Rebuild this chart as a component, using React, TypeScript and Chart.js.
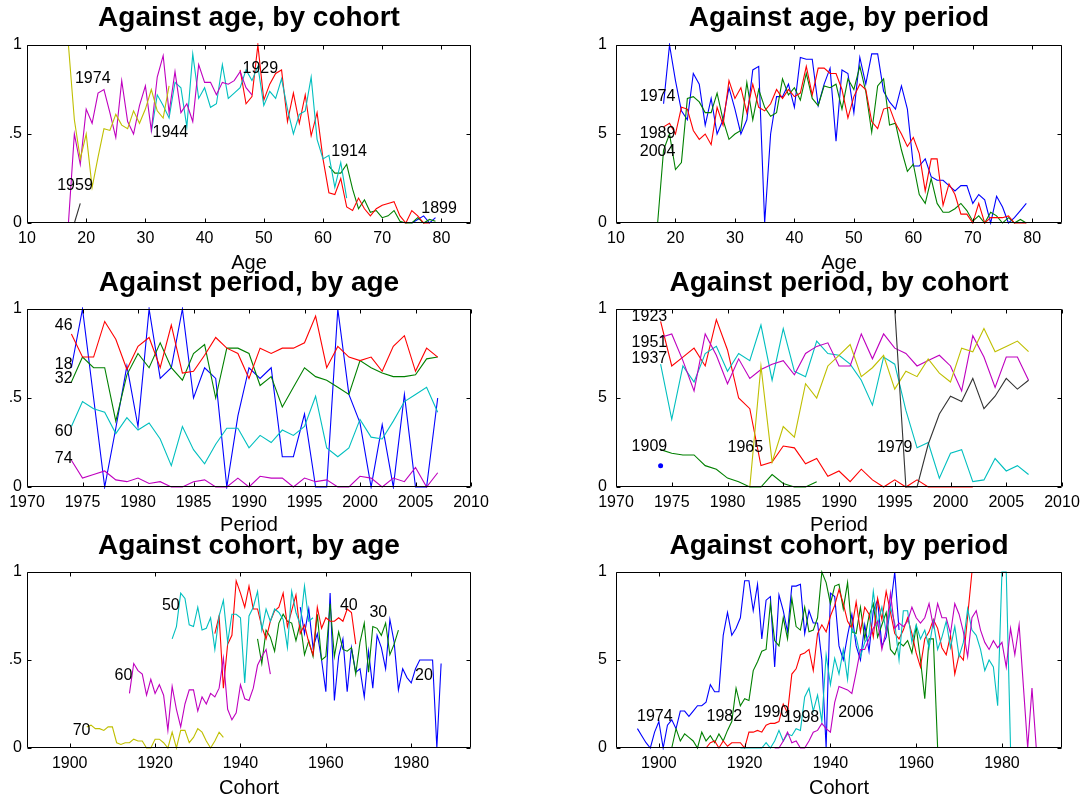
import { useEffect, useRef } from "react";
import { Chart, registerables } from "chart.js";

Chart.register(...registerables);

const FONT = "'Liberation Sans', Arial, Helvetica, sans-serif";
const BLUE = "#0000ff";
const GREEN = "#008000";
const RED = "#ff0000";
const CYAN = "#00bfbf";
const MAGENTA = "#bf00bf";
const YELLOW = "#bfbf00";
const BLACK = "#333333";

const Y_TICKS = [0, 0.5, 1];
const AGE_TICKS = [10, 20, 30, 40, 50, 60, 70, 80];
const PERIOD_TICKS = [1970, 1975, 1980, 1985, 1990, 1995, 2000, 2005, 2010];
const COHORT_TICKS = [1900, 1920, 1940, 1960, 1980];

// ---------- Panel 1: against age, by cohort (x = age) ----------
const cohort1899ByAge = [0, 0.02, 0.04, 0, 0.03]; // ages 75..
const cohort1914ByAge = [0.32, 0.28, 0.28, 0.33, 0.19, 0.08, 0.13, 0.06, 0.07, 0.03, 0.04, 0.07, 0.01, 0, 0, 0.03, 0, 0.02, 0.01]; // 61..
const cohort1929ByAge = [0.86, 0.67, 0.71, 1.0, 0.69, 0.78, 0.84, 0.86, 0.57, 0.73, 0.56, 0.72, 0.49, 0.62, 0.36, 0.17, 0.16, 0.25, 0.09, 0.07, 0.14, 0.08, 0.04, 0.08, 0.1, 0.11, 0.12, 0.04, 0, 0.07, 0.04, 0, 0]; // 46..
const cohort1944ByAge = [0.51, 0.72, 0.66, 0.59, 0.79, 0.76, 0.54, 0.95, 0.7, 0.76, 0.65, 0.67, 0.89, 0.7, 0.73, 0.76, 0.86, 0.8, 0.88, 0.66, 0.74, 0.7, 0.81, 0.64, 0.5, 0.61, 0.63, 0.82, 0.47, 0.36, 0.38, 0.2, 0.34, 0.14]; // 31..
const cohort1959ByAge = [0, 0.5, 0.33, 0.64, 0.56, 0.73, 0.75, 0.62, 0.48, 0.8, 0.57, 0.5, 0.66, 0.77, 0.52, 0.82, 0.94, 0.62, 0.85, 0.62, 0.67, 0.57, 0.89, 0.79, 0.79, 0.72, 0.79, 0.78, 0.8, 0.85, 0.76, 0.72]; // 17..
const cohort1974ByAge = [1.0, 0.58, 0.36, 0.5, 0.2, 0.37, 0.53, 0.52, 0.61, 0.55, 0.53, 0.63, 0.56, 0.64, 0.75, 0.63, 0.59, 0.77]; // 17..
const cohort1989ByAge = [0, 0.11]; // 18..

// ---------- Panel 2: against age, by period (x = age) ----------
const period1974ByAge = [0.67, 1.0, 0.8, 0.63, 0.58, 0.84, 0.78, 0.55, 0.7, 0.5, 0.58, 0.76, 0.64, 0.5, 0.58, 0.86, 0.88, 0, 0.5, 0.71, 0.71, 0.78, 0.65, 0.93, 0.92, 0.92, 0.66, 0.78, 0.87, 0.46, 0.86, 0.84, 0.62, 0.93, 0.78, 0.95, 0.95, 0.74, 0.68, 0.64, 0.77, 0.64, 0.32, 0.32, 0.36, 0.26, 0.24, 0.24, 0.21, 0.18, 0.21, 0.21, 0.11, 0.16, 0.13, 0, 0.15, 0.09, 0, 0.03, 0.07, 0.11]; // 18..79
const period1989ByAge = [0, 0.41, 0.5, 0.3, 0.34, 0.7, 0.71, 0.68, 0.62, 0.62, 0.73, 0.58, 0.47, 0.5, 0.52, 0.79, 0.58, 0.75, 0.65, 0.6, 0.62, 0.81, 0.72, 0.76, 0.69, 0.84, 0.7, 0.66, 0.77, 0.76, 0.78, 0.64, 0.81, 0.75, 0.88, 0.74, 0.51, 0.77, 0.81, 0.55, 0.56, 0.41, 0.29, 0.33, 0.16, 0.11, 0.25, 0.11, 0.06, 0.06, 0.08, 0.11, 0.07, 0.01, 0.04, 0, 0.06, 0.04, 0, 0.03, 0, 0.02, 0]; // 17..79
const period2004ByAge = [0.54, 0.56, 0.5, 0.65, 0.64, 0.52, 0.47, 0.5, 0.44, 0.65, 0.55, 0.8, 0.7, 0.76, 0.62, 0.78, 0.65, 0.63, 0.67, 0.75, 0.7, 0.75, 0.71, 0.73, 0.88, 0.72, 0.87, 0.87, 0.84, 0.84, 0.75, 0.59, 0.71, 0.78, 0.75, 0.57, 0.53, 0.64, 0.65, 0.56, 0.5, 0.43, 0.48, 0.39, 0.18, 0.36, 0.36, 0.1, 0.22, 0.16, 0.05, 0.05, 0, 0.11, 0, 0.03, 0.03, 0.03, 0.04, 0, 0, 0]; // 18..79

// ---------- Panel 3: against period, by age (x = period, from 1974) ----------
const age18ByPeriod = [0.67, 1, 0.5, 0, 0.33, 0.68, 0.34, 1, 0.61, 0.67, 1, 0.5, 0.67, 0.61, 0, 0.4, 0.67, 0.61, 0.67, 0.17, 0.17, 0.41, 0, 0, 1, 0.52, 0.36, 0, 0.35, 0, 0.52, 0, 0, 0.5];
const age32ByPeriod = [0.59, 0.73, 0.67, 0.67, 0.37, 0.63, 0.75, 0.67, 0.81, 0.67, 0.6, 0.75, 0.8, 0.5, 0.78, 0.78, 0.75, 0.57, 0.62, 0.45, 0.56, 0.67, 0.62, 0.6, 0.56, 0.52, 0.71, 0.67, 0.64, 0.62, 0.62, 0.63, 0.72, 0.73];
const age46ByPeriod = [0.86, 0.73, 0.73, 0.93, 0.83, 0.66, 0.79, 0.84, 0.67, 0.91, 0.64, 0.65, 0.74, 0.84, 0.78, 0.75, 0.61, 0.78, 0.75, 0.78, 0.78, 0.81, 0.96, 0.67, 0.79, 0.73, 0.71, 0.73, 0.65, 0.79, 0.85, 0.65, 0.78, 0.73];
const age60ByPeriod = [0.34, 0.48, 0.44, 0.42, 0.3, 0.39, 0.32, 0.36, 0.27, 0.12, 0.34, 0.21, 0.13, 0.24, 0.33, 0.33, 0.22, 0.29, 0.25, 0.32, 0.29, 0.34, 0.51, 0.22, 0.17, 0.22, 0.38, 0.28, 0.27, 0.37, 0.48, 0.52, 0.56, 0.42];
const age74ByPeriod = [0.15, 0.05, 0.07, 0.09, 0.04, 0.03, 0.05, 0.02, 0.03, 0, 0, 0.03, 0.04, 0, 0, 0.05, 0, 0.06, 0.05, 0.05, 0, 0.05, 0.03, 0.04, 0, 0, 0.06, 0.05, 0, 0.05, 0.03, 0.11, 0, 0.08];

// ---------- Panel 4: against period, by cohort (x = period) ----------
const cohort1895ByPeriod = [0.12]; // 1974
const cohort1909ByPeriod = [0.21, 0.19, 0.18, 0.18, 0.12, 0.1, 0.05, 0.03, 0, 0, 0.07, 0.02, 0, 0, 0.03]; // 1974..
const cohort1923ByPeriod = [0.93, 0.68, 0.73, 0.78, 0.68, 0.94, 0.77, 0.5, 0.44, 0.12, 0.14, 0.23, 0.22, 0.13, 0.16, 0.06, 0.09, 0.03, 0.1, 0.04, 0, 0.04, 0, 0.04, 0, 0, 0, 0, 0]; // 1974..
const cohort1937ByPeriod = [0.69, 0.38, 0.68, 0.59, 0.75, 0.79, 0.65, 0.75, 0.71, 0.91, 0.6, 0.89, 0.65, 0.62, 0.82, 0.75, 0.74, 0.69, 0.6, 0.46, 0.73, 0.69, 0.43, 0.22, 0.25, 0.05, 0.19, 0.21, 0.03, 0.04, 0.16, 0.09, 0.12, 0.07]; // 1974..
const cohort1951ByPeriod = [0.84, 0.86, 0.71, 0.54, 0.86, 0.74, 0.58, 0.72, 0.61, 0.66, 0.69, 0.71, 0.63, 0.75, 0.79, 0.81, 0.68, 0.68, 0.86, 0.72, 0.86, 0.78, 0.75, 0.68, 0.71, 0.74, 0.68, 0.54, 0.85, 0.73, 0.56, 0.73, 0.73, 0.6]; // 1974..
const cohort1965ByPeriod = [0, 0.68, 0.14, 0.34, 0.28, 0.58, 0.5, 0.68, 0.74, 0.8, 0.62, 0.67, 0.74, 0.55, 0.65, 0.62, 0.72, 0.64, 0.59, 0.78, 0.76, 0.89, 0.76, 0.79, 0.82, 0.76]; // 1982..
const cohort1979ByPeriod = [1.0, 0, 0, 0.24, 0.41, 0.51, 0.48, 0.61, 0.44, 0.51, 0.61, 0.55, 0.6]; // 1995..

// ---------- Panel 5: against cohort, by age (x = cohort) ----------
const age20ByCohort = [0.8, 0.65, 0.79, 0.57, 0.65, 0.5, 0.32, 0.88, 0.27, 0.52, 0.62, 0.32, 0.57, 0.43, 0.45, 0.29, 0.55, 0.34, 0.64, 0.57, 0.45, 0.73, 0.6, 0.33, 0.45, 0.4, 0.37, 0.45, 0.5, 0.5, 0.5, 0.5, 0, 0.48]; // 1954..
const age30ByCohort = [0.62, 0.48, 0.67, 0.63, 0.55, 0.71, 0.76, 0.72, 0.71, 0.61, 0.71, 0.53, 0.61, 0.52, 0.76, 0.5, 0.52, 0.82, 0.52, 0.66, 0.56, 0.55, 0.57, 0.42, 0.6, 0.71, 0.43, 0.69, 0.68, 0.64, 0.71, 0.53, 0.59, 0.67]; // 1944..
const age40ByCohort = [0.65, 0.75, 0.34, 0.59, 0.64, 0.95, 0.88, 0.8, 0.92, 0.79, 0.79, 0.69, 0.62, 0.72, 0.78, 0.8, 0.88, 0.69, 0.78, 0.87, 0.65, 0.7, 0.6, 0.53, 0.8, 0.68, 0.74, 0.72, 0.72, 0.74, 0.72, 0.79, 0.77, 0.59]; // 1934..
const age50ByCohort = [0.62, 0.69, 0.88, 0.85, 0.7, 0.69, 0.8, 0.67, 0.68, 0.74, 0.56, 0.75, 0.84, 0.6, 0.76, 0.76, 0.74, 0.37, 0.75, 0.8, 0.89, 0.67, 0.79, 0.72, 0.79, 0.77, 0.73, 0.57, 0.89, 0.77, 0.7, 0.92, 0.72, 0.74]; // 1924..
const age60ByCohort = [0.31, 0.48, 0.44, 0.42, 0.3, 0.39, 0.31, 0.36, 0.3, 0.1, 0.35, 0.22, 0.12, 0.25, 0.33, 0.33, 0.21, 0.29, 0.25, 0.31, 0.29, 0.34, 0.51, 0.22, 0.16, 0.2, 0.36, 0.28, 0.27, 0.34, 0.47, 0.52, 0.56, 0.42]; // 1914..
const age70ByCohort = [0.12, 0.13, 0.11, 0.11, 0.1, 0.12, 0.12, 0.03, 0.02, 0.03, 0.03, 0.05, 0.04, 0.04, 0, 0, 0.05, 0.05, 0.03, 0, 0.09, 0, 0.1, 0.1, 0.03, 0.06, 0.11, 0.09, 0.04, 0, 0.04, 0.09, 0.06]; // 1904..

// ---------- Panel 6: against cohort, by period (x = cohort) ----------
const period1982ByCohort = [0, 0.11, 0.04, 0.08, 0.06, 0.04, 0, 0.09, 0.04, 0.07, 0.03, 0.08, 0.04, 0.1, 0.15, 0.34, 0.24, 0.28, 0.27, 0.44, 0.49, 0.55, 0.56, 0.82, 0.61, 0.58, 0.74, 0.62, 0.85, 0.69, 0.67, 0.8, 0.66, 0.67, 0.74, 1.0, 0.94, 0.82, 0.92, 0.93, 0.79, 0.94, 0.66, 0.65, 0.8, 0.62, 0.75, 0.82, 0.63, 0.7, 0.77, 0.56, 0.53, 0.6, 0.58, 0.61, 0.54, 0.69, 0.5, 0.28, 0.62, 0.62, 0]; // 1903..
const period1990ByCohort = [0, 0.03, 0.04, 0, 0.04, 0.01, 0.03, 0.03, 0.03, 0, 0.09, 0.09, 0.1, 0.09, 0.13, 0.14, 0.14, 0.15, 0.25, 0.2, 0.42, 0.45, 0.53, 0.54, 0.56, 0.44, 0.65, 0.7, 0.66, 0.75, 0.81, 0.9, 0.82, 0.72, 0.68, 0.83, 0.66, 0.8, 0.76, 0.63, 0.85, 0.73, 0.89, 0.77, 0.65, 0.62, 0.67, 0.74, 0.65, 0.54, 0.46, 0.62, 0.66, 0.73, 0.68, 0.57, 0.53, 0.64, 0.42, 0.53, 0.5, 0.75, 1.0]; // 1911..
const period1998ByCohort = [0, 0, 0, 0, 0, 0, 0.03, 0, 0.04, 0.1, 0.04, 0.08, 0.07, 0.11, 0.1, 0.29, 0.34, 0.21, 0.3, 0.15, 0.53, 0.36, 0.51, 0.42, 0.56, 0.39, 0.68, 0.63, 0.52, 0.6, 0.64, 0.89, 0.7, 0.8, 0.66, 0.8, 0.71, 0.5, 0.78, 0.78, 0.6, 0.7, 0.62, 0.67, 0.57, 0.72, 0.56, 0.63, 0.72, 0.57, 0.69, 0.52, 0.6, 0.79, 0.67, 0.64, 0.56, 0.44, 0.5, 0.46, 0.24, 1.0, 1.0, 0]; // 1919..
const period2006ByCohort = [0, 0, 0.04, 0.09, 0.03, 0.04, 0, 0, 0.04, 0.09, 0.1, 0.14, 0.11, 0.09, 0.26, 0.35, 0.34, 0.33, 0.31, 0.43, 0.56, 0.56, 0.62, 0.68, 0.72, 0.56, 0.67, 0.88, 0.68, 0.71, 0.69, 0.72, 0.8, 0.74, 0.71, 0.74, 0.82, 0.69, 0.82, 0.74, 0.74, 0.65, 0.82, 0.76, 0.66, 0.52, 0.74, 0.78, 0.67, 0.6, 0.56, 0.61, 0.57, 0.6, 0.46, 0.68, 0.53, 0.7, 0.35, 0, 0.34, 0]; // 1927..

type Series = { color: string; pts: { x: number; y: number }[]; dot?: boolean };
type Label = { text: string; x: number; y: number };
type PanelCfg = {
  title: string;
  xlabel: string;
  xmin: number;
  xmax: number;
  xticks: number[];
  col: number;
  row: number;
  series: Series[];
  labels: Label[];
};

const seq = (start: number, values: number[]) => values.map((v, i) => ({ x: start + i, y: v }));
// period 1974 expressed against cohort (cohort = period - age)
const period1974ByCohort = period1974ByAge.map((v, i) => ({ x: 1974 - (18 + i), y: v }));

const COLS = [
  { L: 27, R: 471, cx: 8, cw: 492, pad: 5 },
  { L: 616, R: 1062, cx: 598, cw: 489, pad: 9 },
];
const ROWS = [
  { T: 45, B: 223, titleY: 18, xlabelY: 263 },
  { T: 309, B: 487, titleY: 283, xlabelY: 525 },
  { T: 572, B: 748, titleY: 546, xlabelY: 788 },
];

const PANELS: PanelCfg[] = [
  {
    title: "Against age, by cohort", xlabel: "Age", xmin: 10, xmax: 85, xticks: AGE_TICKS, col: 0, row: 0,
    series: [
      { color: BLUE, pts: seq(75, cohort1899ByAge) },
      { color: GREEN, pts: seq(61, cohort1914ByAge) },
      { color: RED, pts: seq(46, cohort1929ByAge) },
      { color: CYAN, pts: seq(31, cohort1944ByAge) },
      { color: MAGENTA, pts: seq(17, cohort1959ByAge) },
      { color: YELLOW, pts: seq(17, cohort1974ByAge) },
      { color: BLACK, pts: seq(18, cohort1989ByAge) },
    ],
    labels: [
      { text: "1974", x: 18.1, y: 0.81 },
      { text: "1959", x: 15.1, y: 0.21 },
      { text: "1944", x: 31.2, y: 0.51 },
      { text: "1929", x: 46.4, y: 0.87 },
      { text: "1914", x: 61.4, y: 0.4 },
      { text: "1899", x: 76.6, y: 0.08 },
    ],
  },
  {
    title: "Against age, by period", xlabel: "Age", xmin: 10, xmax: 85, xticks: AGE_TICKS, col: 1, row: 0,
    series: [
      { color: BLUE, pts: seq(18, period1974ByAge) },
      { color: GREEN, pts: seq(17, period1989ByAge) },
      { color: RED, pts: seq(18, period2004ByAge) },
    ],
    labels: [
      { text: "1974", x: 14.0, y: 0.71 },
      { text: "1989", x: 14.0, y: 0.5 },
      { text: "2004", x: 14.0, y: 0.4 },
    ],
  },
  {
    title: "Against period, by age", xlabel: "Period", xmin: 1970, xmax: 2010, xticks: PERIOD_TICKS, col: 0, row: 1,
    series: [
      { color: BLUE, pts: seq(1974, age18ByPeriod) },
      { color: GREEN, pts: seq(1974, age32ByPeriod) },
      { color: RED, pts: seq(1974, age46ByPeriod) },
      { color: CYAN, pts: seq(1974, age60ByPeriod) },
      { color: MAGENTA, pts: seq(1974, age74ByPeriod) },
    ],
    labels: [
      { text: "46", x: 1972.5, y: 0.905 },
      { text: "18", x: 1972.5, y: 0.69 },
      { text: "32", x: 1972.5, y: 0.61 },
      { text: "60", x: 1972.5, y: 0.31 },
      { text: "74", x: 1972.5, y: 0.16 },
    ],
  },
  {
    title: "Against period, by cohort", xlabel: "Period", xmin: 1970, xmax: 2010, xticks: PERIOD_TICKS, col: 1, row: 1,
    series: [
      { color: BLUE, pts: seq(1974, cohort1895ByPeriod), dot: true },
      { color: GREEN, pts: seq(1974, cohort1909ByPeriod) },
      { color: RED, pts: seq(1974, cohort1923ByPeriod) },
      { color: CYAN, pts: seq(1974, cohort1937ByPeriod) },
      { color: MAGENTA, pts: seq(1974, cohort1951ByPeriod) },
      { color: YELLOW, pts: seq(1982, cohort1965ByPeriod) },
      { color: BLACK, pts: seq(1995, cohort1979ByPeriod) },
    ],
    labels: [
      { text: "1923", x: 1971.4, y: 0.96 },
      { text: "1951", x: 1971.4, y: 0.81 },
      { text: "1937", x: 1971.4, y: 0.72 },
      { text: "1909", x: 1971.4, y: 0.225 },
      { text: "1965", x: 1980.0, y: 0.22 },
      { text: "1979", x: 1993.4, y: 0.22 },
    ],
  },
  {
    title: "Against cohort, by age", xlabel: "Cohort", xmin: 1890, xmax: 1994, xticks: COHORT_TICKS, col: 0, row: 2,
    series: [
      { color: BLUE, pts: seq(1954, age20ByCohort) },
      { color: GREEN, pts: seq(1944, age30ByCohort) },
      { color: RED, pts: seq(1934, age40ByCohort) },
      { color: CYAN, pts: seq(1924, age50ByCohort) },
      { color: MAGENTA, pts: seq(1914, age60ByCohort) },
      { color: YELLOW, pts: seq(1904, age70ByCohort) },
    ],
    labels: [
      { text: "50", x: 1921.6, y: 0.81 },
      { text: "60", x: 1910.5, y: 0.41 },
      { text: "70", x: 1900.7, y: 0.1 },
      { text: "40", x: 1963.3, y: 0.81 },
      { text: "30", x: 1970.2, y: 0.77 },
      { text: "20", x: 1980.9, y: 0.41 },
    ],
  },
  {
    title: "Against cohort, by period", xlabel: "Cohort", xmin: 1890, xmax: 1994, xticks: COHORT_TICKS, col: 1, row: 2,
    series: [
      { color: BLUE, pts: period1974ByCohort },
      { color: GREEN, pts: seq(1903, period1982ByCohort) },
      { color: RED, pts: seq(1911, period1990ByCohort) },
      { color: CYAN, pts: seq(1919, period1998ByCohort) },
      { color: MAGENTA, pts: seq(1927, period2006ByCohort) },
    ],
    labels: [
      { text: "1974", x: 1894.9, y: 0.18 },
      { text: "1982", x: 1911.1, y: 0.18 },
      { text: "1990", x: 1922.1, y: 0.2 },
      { text: "1998", x: 1929.1, y: 0.17 },
      { text: "2006", x: 1941.8, y: 0.2 },
    ],
  },
];

function Panel({ cfg }: { cfg: PanelCfg }) {
  const ref = useRef<HTMLCanvasElement>(null);
  const col = COLS[cfg.col];
  const row = ROWS[cfg.row];
  const cy = row.T - 45;
  const ch = row.B + 55 - cy;
  const cx = col.cx;
  const cw = col.cw;

  useEffect(() => {
    const canvas = ref.current;
    if (!canvas) return;
    const decor = {
      id: "decor",
      afterDraw(chart: any) {
        const { ctx, chartArea: a } = chart;
        const xs = chart.scales.x;
        const ys = chart.scales.y;
        ctx.save();
        ctx.strokeStyle = "#000";
        ctx.lineWidth = 1;
        const l = Math.round(a.left) + 0.5;
        const r = Math.round(a.right) - 0.5;
        const t = Math.round(a.top) + 0.5;
        const b = Math.round(a.bottom) - 0.5;
        const tl = 4;
        ctx.beginPath();
        ctx.rect(l, t, r - l, b - t);
        for (const v of cfg.xticks) {
          const p = Math.round(xs.getPixelForValue(v)) + 0.5;
          ctx.moveTo(p, b);
          ctx.lineTo(p, b - tl);
          ctx.moveTo(p, t);
          ctx.lineTo(p, t + tl);
        }
        for (const v of Y_TICKS) {
          const p = Math.round(ys.getPixelForValue(v)) + 0.5;
          ctx.moveTo(l, p);
          ctx.lineTo(l + tl, p);
          ctx.moveTo(r, p);
          ctx.lineTo(r - tl, p);
        }
        ctx.stroke();
        ctx.fillStyle = "#000";
        ctx.textAlign = "center";
        ctx.textBaseline = "middle";
        ctx.font = `bold 28px ${FONT}`;
        ctx.fillText(cfg.title, (a.left + a.right) / 2, row.titleY - cy);
        ctx.font = `20px ${FONT}`;
        ctx.fillText(cfg.xlabel, (a.left + a.right) / 2, row.xlabelY - cy);
        ctx.textAlign = "left";
        ctx.font = `16px ${FONT}`;
        for (const lb of cfg.labels) {
          ctx.fillText(lb.text, xs.getPixelForValue(lb.x), ys.getPixelForValue(lb.y));
        }
        ctx.restore();
      },
    };

    const n = cfg.series.length;
    const chart = new Chart(canvas, {
      type: "line",
      data: {
        datasets: cfg.series.map((s, i) => ({
          data: s.pts,
          borderColor: s.color,
          backgroundColor: s.color,
          borderWidth: 1.1,
          pointRadius: s.dot ? 2.5 : 0,
          pointBorderWidth: 0,
          tension: 0,
          fill: false,
          clip: 2,
          order: n - i,
        })),
      },
      options: {
        responsive: false,
        animation: false,
        events: [],
        layout: { padding: { top: row.T - cy, right: cx + cw - col.R, left: 0, bottom: 0 } },
        plugins: { legend: { display: false }, tooltip: { enabled: false }, title: { display: false } },
        scales: {
          x: {
            type: "linear",
            min: cfg.xmin,
            max: cfg.xmax,
            grid: { display: false, drawTicks: false },
            border: { display: false },
            afterBuildTicks: (sc: any) => {
              sc.ticks = cfg.xticks.map((v) => ({ value: v }));
            },
            afterFit: (sc: any) => {
              sc.height = cy + ch - row.B;
              sc.paddingLeft = 0;
              sc.paddingRight = 0;
            },
            ticks: {
              autoSkip: false,
              maxRotation: 0,
              minRotation: 0,
              padding: 6,
              color: "#000",
              font: { family: FONT, size: 16 },
              callback: (v: any) => String(v),
            },
          },
          y: {
            type: "linear",
            min: 0,
            max: 1,
            grid: { display: false, drawTicks: false },
            border: { display: false },
            afterBuildTicks: (sc: any) => {
              sc.ticks = Y_TICKS.map((v) => ({ value: v }));
            },
            afterFit: (sc: any) => {
              sc.width = col.L - cx;
              sc.paddingTop = 0;
              sc.paddingBottom = 0;
            },
            ticks: {
              padding: col.pad,
              color: "#000",
              font: { family: FONT, size: 16 },
              callback: (v: any) => String(v),
            },
          },
        },
      },
      plugins: [decor],
    } as any);
    return () => chart.destroy();
  }, []);

  return (
    <canvas
      ref={ref}
      width={cw}
      height={ch}
      style={{ position: "absolute", left: cx, top: cy, width: cw, height: ch }}
    />
  );
}

export default function App() {
  return (
    <div style={{ position: "absolute", left: 0, top: 0, width: 1087, height: 804, background: "#fff", overflow: "hidden" }}>
      {PANELS.map((p, i) => (
        <Panel key={i} cfg={p} />
      ))}
    </div>
  );
}
